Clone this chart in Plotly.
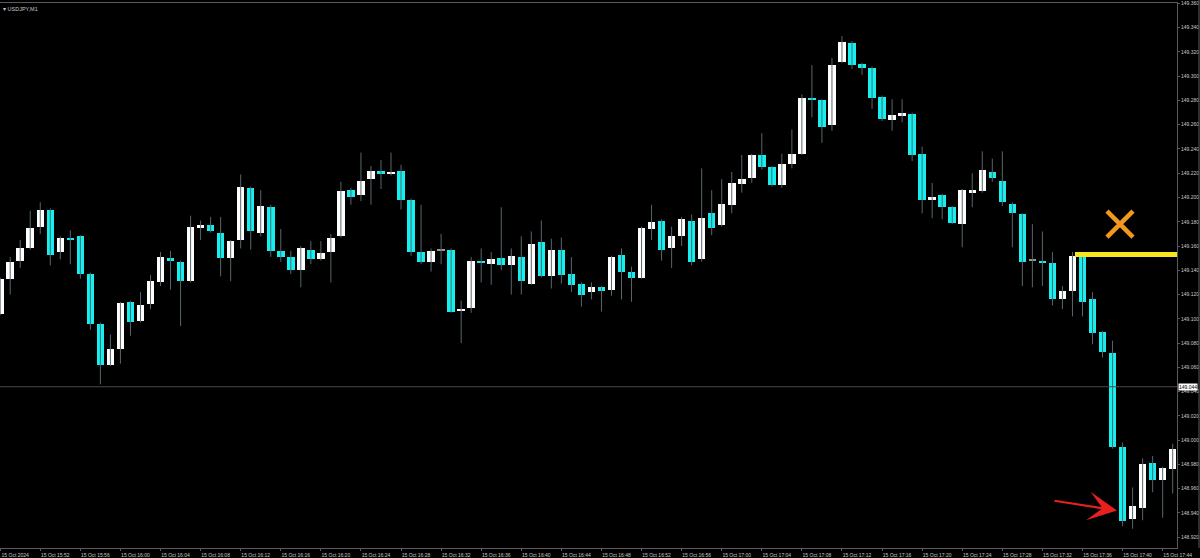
import pandas as pd
import plotly.graph_objects as go

# ---------------- data (USDJPY, M1, 15 Oct 2024 15:48 .. 17:45) ----------------
open_ = [149.104, 149.133, 149.148, 149.158, 149.176, 149.190, 149.155, 149.166, 149.168, 149.137,
         149.096, 149.062, 149.075, 149.114, 149.098, 149.112, 149.130, 149.150, 149.147, 149.131,
         149.175, 149.177, 149.171, 149.150, 149.165, 149.208, 149.171, 149.192, 149.156, 149.151,
         149.140, 149.157, 149.149, 149.155, 149.168, 149.206, 149.202, 149.215, 149.222, 149.219,
         149.222, 149.198, 149.155, 149.147, 149.156, 149.157, 149.107, 149.109, 149.148, 149.145,
         149.150, 149.144, 149.151, 149.129, 149.163, 149.135, 149.157, 149.137, 149.129, 149.122,
         149.126, 149.124, 149.153, 149.139, 149.134, 149.174, 149.181, 149.158, 149.168, 149.181,
         149.149, 149.187, 149.177, 149.194, 149.211, 149.216, 149.235, 149.225, 149.210, 149.228,
         149.236, 149.282, 149.280, 149.260, 149.312, 149.327, 149.310, 149.307, 149.283, 149.264,
         149.267, 149.269, 149.236, 149.198, 149.202, 149.192, 149.178, 149.204, 149.205, 149.221,
         149.214, 149.195, 149.186, 149.148, 149.148, 149.146, 149.116, 149.123, 149.151, 149.116,
         149.089, 149.072, 148.994, 148.935, 148.944, 148.981, 148.967, 148.976]
high = [149.134, 149.151, 149.165, 149.189, 149.196, 149.191, 149.168, 149.173, 149.169, 149.138,
        149.097, 149.087, 149.114, 149.115, 149.122, 149.136, 149.155, 149.156, 149.148, 149.185,
        149.181, 149.184, 149.184, 149.165, 149.219, 149.209, 149.206, 149.194, 149.174, 149.156,
        149.160, 149.164, 149.164, 149.170, 149.213, 149.208, 149.237, 149.226, 149.231, 149.237,
        149.227, 149.199, 149.194, 149.158, 149.170, 149.158, 149.115, 149.151, 149.158, 149.155,
        149.192, 149.158, 149.168, 149.172, 149.181, 149.166, 149.167, 149.151, 149.130, 149.130,
        149.127, 149.152, 149.158, 149.143, 149.176, 149.194, 149.182, 149.176, 149.184, 149.186,
        149.224, 149.206, 149.215, 149.221, 149.235, 149.236, 149.253, 149.226, 149.236, 149.256,
        149.285, 149.309, 149.281, 149.315, 149.333, 149.329, 149.311, 149.308, 149.284, 149.281,
        149.281, 149.270, 149.242, 149.212, 149.203, 149.193, 149.207, 149.220, 149.238, 149.232,
        149.238, 149.196, 149.187, 149.178, 149.172, 149.155, 149.127, 149.155, 149.153, 149.122,
        149.090, 149.082, 148.998, 148.961, 148.985, 148.987, 148.978, 148.997]
low = [149.103, 149.120, 149.142, 149.157, 149.170, 149.144, 149.149, 149.145, 149.133, 149.091,
       149.046, 149.061, 149.063, 149.086, 149.097, 149.108, 149.127, 149.124, 149.094, 149.130,
       149.165, 149.171, 149.135, 149.131, 149.158, 149.157, 149.168, 149.151, 149.147, 149.137,
       149.126, 149.145, 149.148, 149.130, 149.167, 149.194, 149.197, 149.194, 149.207, 149.218,
       149.190, 149.152, 149.145, 149.139, 149.145, 149.105, 149.080, 149.105, 149.130, 149.128,
       149.140, 149.120, 149.120, 149.128, 149.134, 149.125, 149.129, 149.122, 149.110, 149.116,
       149.106, 149.119, 149.116, 149.114, 149.133, 149.165, 149.148, 149.142, 149.160, 149.144,
       149.147, 149.169, 149.176, 149.187, 149.204, 149.212, 149.223, 149.209, 149.208, 149.224,
       149.235, 149.266, 149.245, 149.255, 149.311, 149.306, 149.301, 149.273, 149.263, 149.255,
       149.262, 149.230, 149.187, 149.183, 149.182, 149.178, 149.159, 149.192, 149.204, 149.213,
       149.193, 149.159, 149.127, 149.126, 149.127, 149.111, 149.108, 149.102, 149.102, 149.079,
       149.068, 148.993, 148.929, 148.927, 148.934, 148.957, 148.936, 148.956]
close = [149.133, 149.147, 149.158, 149.175, 149.190, 149.153, 149.167, 149.165, 149.137, 149.096,
         149.062, 149.075, 149.113, 149.097, 149.111, 149.131, 149.151, 149.148, 149.131, 149.176,
         149.177, 149.172, 149.150, 149.164, 149.209, 149.172, 149.193, 149.156, 149.151, 149.140,
         149.158, 149.149, 149.154, 149.167, 149.205, 149.200, 149.214, 149.222, 149.219, 149.221,
         149.198, 149.155, 149.147, 149.156, 149.156, 149.106, 149.108, 149.148, 149.146, 149.149,
         149.144, 149.152, 149.131, 149.162, 149.135, 149.157, 149.136, 149.128, 149.120, 149.126,
         149.123, 149.151, 149.139, 149.134, 149.175, 149.180, 149.157, 149.168, 149.182, 149.147,
         149.183, 149.175, 149.195, 149.212, 149.215, 149.235, 149.225, 149.210, 149.228, 149.236,
         149.282, 149.280, 149.258, 149.309, 149.328, 149.309, 149.307, 149.282, 149.265, 149.268,
         149.270, 149.235, 149.198, 149.200, 149.192, 149.179, 149.206, 149.206, 149.223, 149.216,
         149.196, 149.187, 149.147, 149.148, 149.146, 149.116, 149.123, 149.152, 149.114, 149.088,
         149.073, 148.994, 148.933, 148.946, 148.980, 148.967, 148.977, 148.993]

start_time = "2024-10-15 15:48"
symbol_title = "USDJPY,M1"
price_line_value = 149.044
yellow_level = 149.153
y_ticks = [round(148.92 + 0.02 * k, 3) for k in range(23)]

# annotation positions (minutes after start, price)
yellow_start_min = 107.25
cross_pos = (111.74, 149.178)
arrow_tip = (111.44, 148.942)

# ---------------- styles ----------------
BG = "#000000"
BULL = "#FFFFFF"
BEAR = "#14F0F0"
DOJI = "#9A9A9A"
WICK = "#56666C"
TEXT = "#C8C8C8"
GRIDLINE = "#5A5A5A"

t0 = pd.Timestamp(start_time)
times = pd.date_range(t0, periods=len(open_), freq="min")

def tmin(m):
    return t0 + pd.Timedelta(seconds=m * 60)

x_lo = t0 - pd.Timedelta(seconds=1)
x_hi = tmin(117.43)

# wick polyline built from the data
wx, wy = [], []
for t, h, l in zip(times, high, low):
    wx += [t, t, None]
    wy += [l, h, None]

bases = [min(o, c) for o, c in zip(open_, close)]
heights = [max(abs(c - o), 0.0009) for o, c in zip(open_, close)]
colors = [BULL if c > o else (BEAR if c < o else DOJI) for o, c in zip(open_, close)]

fig = go.Figure()
fig.add_trace(go.Scatter(x=wx, y=wy, mode="lines", line=dict(color=WICK, width=1),
                         hoverinfo="skip", showlegend=False))
fig.add_trace(go.Bar(x=times, y=heights, base=bases, width=45000,
                     marker=dict(color=colors, line=dict(width=0)),
                     showlegend=False))

# current price line
fig.add_trace(go.Scatter(x=[x_lo, x_hi], y=[price_line_value, price_line_value], mode="lines",
                         line=dict(color="#4A4A4A", width=1), hoverinfo="skip", showlegend=False))
# yellow level line
fig.add_trace(go.Scatter(x=[tmin(yellow_start_min), x_hi], y=[yellow_level, yellow_level], mode="lines",
                         line=dict(color="#F5E61E", width=5), hoverinfo="skip", showlegend=False))
# orange cross
fig.add_trace(go.Scatter(x=[tmin(cross_pos[0])], y=[cross_pos[1]], mode="markers",
                         marker=dict(symbol="x-thin", size=26, line=dict(color="#F5961E", width=4.5)),
                         hoverinfo="skip", showlegend=False))

fig.add_annotation(x=tmin(arrow_tip[0]), y=arrow_tip[1], xref="x", yref="y", text="",
                   showarrow=True, ax=-64, ay=-10, axref="pixel", ayref="pixel",
                   arrowhead=3, arrowsize=2.2, arrowwidth=2.2, arrowcolor="#E8201E")

# price label box on the axis
fig.add_annotation(x=1.0, y=price_line_value, xref="paper", yref="y", xanchor="left", yanchor="middle",
                   text=f"{price_line_value:.3f}", showarrow=False,
                   font=dict(size=5, color="#000000", family="Liberation Sans"),
                   bgcolor="#FFFFFF", borderpad=0, xshift=1)

# title
fig.add_annotation(x=0.001, y=0.998, xref="paper", yref="paper", xanchor="left", yanchor="top",
                   text="▾ " + symbol_title, showarrow=False,
                   font=dict(size=5.5, color=TEXT, family="Liberation Sans"))

# outer right border of window
fig.add_shape(type="line", xref="paper", yref="paper", x0=1.0187, x1=1.0187, y0=0, y1=1.02,
              line=dict(color=GRIDLINE, width=1))

tickvals = pd.date_range(t0, t0 + pd.Timedelta(minutes=116), freq="4min")
ticktext = [f"{t.day} {t.strftime('%b')} {t.year}" if k == 0 else f"{t.day} {t.strftime('%b')} {t.strftime('%H:%M')}"
            for k, t in enumerate(tickvals)]

fig.update_layout(
    width=1200, height=558,
    paper_bgcolor=BG, plot_bgcolor=BG,
    margin=dict(l=0, r=23, t=1, b=8),
    bargap=0,
    showlegend=False,
    xaxis=dict(type="date", range=[x_lo, x_hi], tickmode="array", tickvals=list(tickvals),
               ticktext=ticktext, showgrid=False, zeroline=False,
               showline=True, mirror=True, linecolor=GRIDLINE, linewidth=1,
               ticks="outside", ticklen=2, tickcolor=GRIDLINE,
               tickfont=dict(size=5, color=TEXT, family="Liberation Sans"),
               ticklabelshift=15, ticklabelstandoff=0, ticklabeloverflow="allow",
               rangeslider=dict(visible=False), fixedrange=True),
    yaxis=dict(side="right", range=[148.9111, 149.3603], tickmode="array", tickvals=y_ticks,
               ticktext=[f"{v:.3f}" for v in y_ticks], showgrid=False, zeroline=False,
               showline=True, linecolor=GRIDLINE, linewidth=1,
               ticks="outside", ticklen=2, tickcolor=GRIDLINE,
               tickfont=dict(size=5, color=TEXT, family="Liberation Sans"),
               ticklabeloverflow="allow", fixedrange=True),
)

fig.write_html("out.html", config={"displayModeBar": False},
               post_script="document.body.style.margin='0';document.body.style.background='#000';")
